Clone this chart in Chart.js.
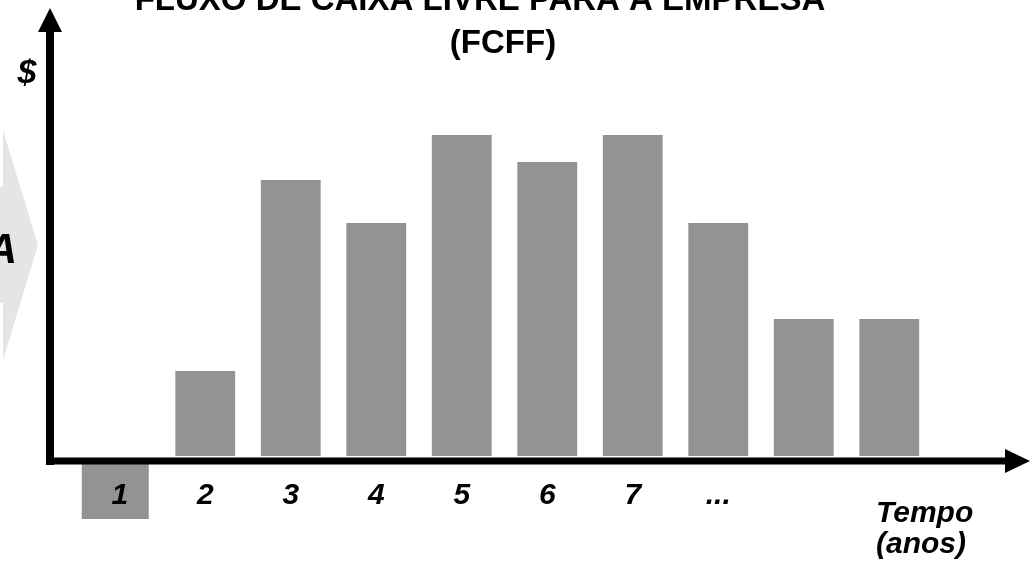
<!DOCTYPE html>
<html>
<head>
<meta charset="utf-8">
<script src="https://cdn.jsdelivr.net/npm/chart.js@4"></script>
<style>
html, body { margin: 0; padding: 0; background: #fff; }
#wrap { width: 1034px; height: 566px; }
</style>
</head>
<body>
<div id="wrap"><canvas id="fcff" width="1034" height="566"></canvas></div>
<script>
// categories (years) and the free cash flow bars, in arbitrary $ units
const anos = ['1', '2', '3', '4', '5', '6', '7', '...', '', ''];
const fluxo = [null, 8.5, 27.6, 23.3, 32.1, 29.4, 32.1, 23.3, 13.7, 13.7];
const yMax = 41.6;

const tituloLinha1 = 'FLUXO DE CAIXA LIVRE PARA A EMPRESA';
const tituloLinha2 = '(FCFF)';
const eixoY = '$';
const eixoX = ['Tempo', '(anos)'];

const CINZA = '#939393';
const FONTE = "'Liberation Sans', Arial, sans-serif";

const desenhos = {
  id: 'desenhos',
  beforeDraw(chart) {
    const ctx = chart.ctx;
    const x = chart.scales.x;
    const area = chart.chartArea;
    ctx.save();

    // light grey arrow coming in from the left edge
    ctx.fillStyle = '#e5e5e5';
    ctx.beginPath();
    ctx.moveTo(0, 187);
    ctx.lineTo(3, 187);
    ctx.lineTo(3, 130);
    ctx.lineTo(38, 245);
    ctx.lineTo(3, 360);
    ctx.lineTo(3, 303);
    ctx.lineTo(0, 303);
    ctx.closePath();
    ctx.fill();
    ctx.fillStyle = '#000';
    ctx.font = 'italic bold 42px ' + FONTE;
    ctx.textAlign = 'right';
    ctx.textBaseline = 'alphabetic';
    ctx.fillText('A', 17, 263);

    // grey box behind the first year
    const px = x.getPixelForTick(0);
    ctx.fillStyle = CINZA;
    ctx.fillRect(px - 38, area.bottom + 8, 67, 55);
    ctx.restore();
  },
  afterDatasetsDraw(chart) {
    const ctx = chart.ctx;
    const area = chart.chartArea;
    const ax = area.left - 27;
    const ay = area.bottom + 5;
    ctx.save();
    ctx.fillStyle = '#000';

    // vertical axis with arrow
    ctx.fillRect(ax - 4, 30, 8, ay - 30 + 4);
    ctx.beginPath();
    ctx.moveTo(ax - 12, 32);
    ctx.lineTo(ax + 12, 32);
    ctx.lineTo(ax, 8);
    ctx.closePath();
    ctx.fill();

    // horizontal axis with arrow
    ctx.fillRect(ax - 4, ay - 3.5, 1007 - ax + 4, 7);
    ctx.beginPath();
    ctx.moveTo(1005, ay - 12);
    ctx.lineTo(1005, ay + 12);
    ctx.lineTo(1030, ay);
    ctx.closePath();
    ctx.fill();

    // title
    ctx.font = 'bold 33px ' + FONTE;
    ctx.textAlign = 'center';
    ctx.textBaseline = 'alphabetic';
    ctx.fillText(tituloLinha1, 480, 10);
    ctx.fillText(tituloLinha2, 503, 53);

    // axis names
    ctx.font = 'italic bold 34px ' + FONTE;
    ctx.fillText(eixoY, 27, 83);
    ctx.font = 'italic bold 30px ' + FONTE;
    ctx.textAlign = 'left';
    ctx.fillText(eixoX[0], 876, 522);
    ctx.fillText(eixoX[1], 876, 553);
    ctx.restore();
  }
};

new Chart(document.getElementById('fcff'), {
  type: 'bar',
  data: {
    labels: anos,
    datasets: [{
      data: fluxo,
      backgroundColor: CINZA,
      borderWidth: 0,
      barPercentage: 0.7,
      categoryPercentage: 1.0
    }]
  },
  options: {
    responsive: false,
    animation: false,
    devicePixelRatio: 1,
    layout: { padding: { left: 77, right: 102, top: 40, bottom: 30 } },
    plugins: {
      legend: { display: false },
      tooltip: { enabled: false },
      title: { display: false }
    },
    scales: {
      x: {
        offset: true,
        grid: { display: false, drawTicks: false },
        border: { display: false },
        ticks: {
          color: '#000',
          padding: 22,
          maxRotation: 0,
          autoSkip: false,
          font: { family: FONTE, size: 30, style: 'italic', weight: 'bold' }
        }
      },
      y: {
        display: false,
        min: 0,
        max: yMax
      }
    }
  },
  plugins: [desenhos]
});
</script>
</body>
</html>
